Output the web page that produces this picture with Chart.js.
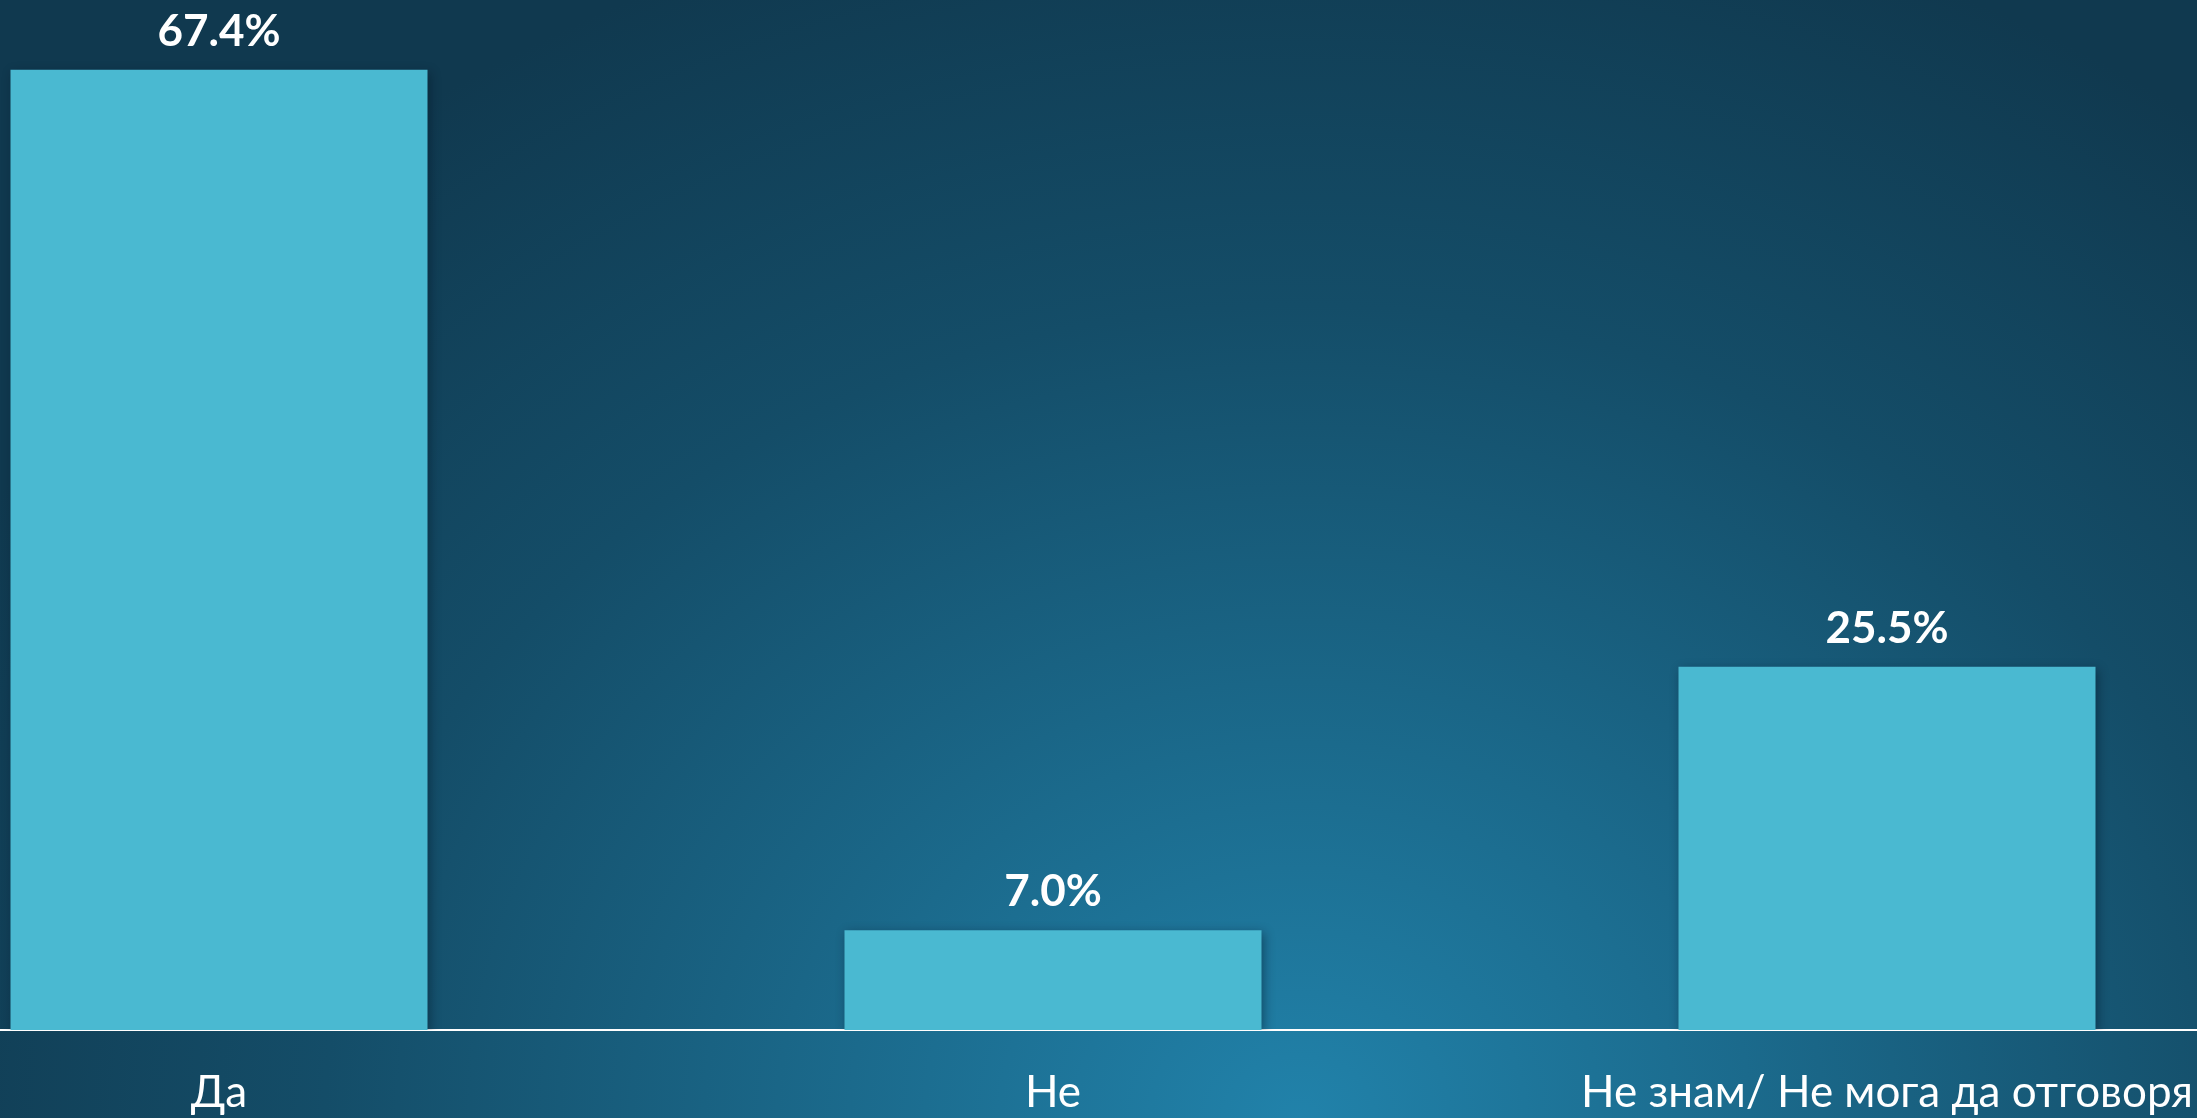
<!DOCTYPE html>
<html>
<head>
<meta charset="utf-8">
<script src="https://cdn.jsdelivr.net/npm/chart.js@4"></script>
<style>
  html, body { margin: 0; padding: 0; width: 2197px; height: 1118px; overflow: hidden; }
  body {
    background: radial-gradient(ellipse 1500px 1250px at 1300px 1118px, #2182aa 0%, #1b6a8c 30%, #144d68 65%, #10394f 100%);
    position: relative;
  }
  #chart { position: absolute; left: -198px; top: 0; }
</style>
</head>
<body>
<canvas id="chart" width="2502" height="1118"></canvas>
<script>
// survey answers
const categories = ['Да', 'Не', 'Не знам/ Не мога да отговоря'];
const values = [67.4, 7.0, 25.5];

const barColor = '#4ab9d1';

// value labels above each bar
const valueLabels = {
  id: 'valueLabels',
  afterDatasetsDraw(chart) {
    const ctx = chart.ctx;
    const meta = chart.getDatasetMeta(0);
    ctx.save();
    ctx.fillStyle = '#ffffff';
    ctx.font = 'bold 44px Lato';
    ctx.textAlign = 'center';
    ctx.textBaseline = 'alphabetic';
    meta.data.forEach((bar, i) => {
      ctx.fillText(values[i].toFixed(1) + '%', bar.x, bar.y - 24);
    });
    ctx.restore();
  }
};

// soft shadow behind bars
const barShadow = {
  id: 'barShadow',
  beforeDatasetsDraw(chart) {
    const ctx = chart.ctx;
    ctx.save();
    ctx.shadowColor = 'rgba(0, 20, 35, 0.45)';
    ctx.shadowBlur = 10;
    ctx.shadowOffsetX = 2;
    ctx.shadowOffsetY = 3;
  },
  afterDatasetsDraw(chart) {
    chart.ctx.restore();
  }
};

new Chart(document.getElementById('chart'), {
  type: 'bar',
  data: {
    labels: categories,
    datasets: [{
      data: values,
      backgroundColor: barColor,
      borderWidth: 0,
      categoryPercentage: 1,
      barPercentage: 0.5
    }]
  },
  options: {
    responsive: false,
    devicePixelRatio: 1,
    animation: false,
    layout: { padding: 0 },
    plugins: {
      legend: { display: false },
      tooltip: { enabled: false }
    },
    scales: {
      x: {
        grid: { display: false, drawTicks: false },
        border: { display: true, color: '#ffffff', width: 2 },
        afterFit(scale) { scale.height = 88; },
        ticks: {
          color: '#ffffff',
          padding: 36,
          maxRotation: 0,
          autoSkip: false,
          font: { family: 'Lato', size: 44, weight: 400 }
        }
      },
      y: {
        display: false,
        min: 0,
        max: 72.3
      }
    }
  },
  plugins: [barShadow, valueLabels]
});
</script>
</body>
</html>
